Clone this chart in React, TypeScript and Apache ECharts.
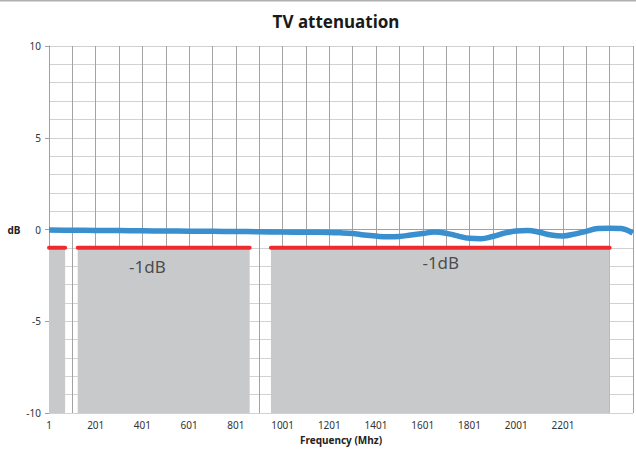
import React, { useEffect, useRef } from "react";
import * as echarts from "echarts";

const freq = [1, 100, 200, 300, 400, 500, 600, 700, 800, 900, 1000, 1100, 1200, 1250, 1300, 1350, 1400, 1450, 1500, 1550, 1600, 1650, 1700, 1750, 1800, 1850, 1900, 1950, 2000, 2050, 2100, 2150, 2200, 2250, 2300, 2350, 2400, 2450, 2500];
const attenuation = [-0.03, -0.04, -0.05, -0.06, -0.07, -0.08, -0.09, -0.1, -0.11, -0.12, -0.14, -0.15, -0.16, -0.18, -0.22, -0.3, -0.36, -0.4, -0.38, -0.3, -0.22, -0.14, -0.2, -0.35, -0.48, -0.5, -0.38, -0.2, -0.08, -0.05, -0.15, -0.3, -0.35, -0.25, -0.1, 0.05, 0.07, 0.05, -0.2];

const bandStart = [1, 124, 951];
const bandEnd = [70, 860, 2401];
const limitLevel = -1;
const floorLevel = -10;

const noteX = [422, 1678];
const noteY = [-2.0, -1.8];
const noteText = ["-1dB", "-1dB"];

const FONT = "'Noto Sans', sans-serif";

export default function App() {
  const ref = useRef<HTMLDivElement>(null);
  useEffect(() => {
    if (!ref.current) return;
    const chart = echarts.init(ref.current, null, { renderer: "svg" });

    const redData: any[] = [];
    bandStart.forEach((s, i) => {
      if (i > 0) redData.push([(bandEnd[i - 1] + s) / 2, "-"]);
      redData.push([s, limitLevel]);
      redData.push([bandEnd[i], limitLevel]);
    });

    chart.setOption({
      animation: false,
      backgroundColor: "#ffffff",
      title: {
        text: "TV attenuation",
        left: 331,
        top: 8,
        textAlign: "center",
        textStyle: { fontFamily: FONT, fontSize: 17, fontWeight: "bold", color: "#1a1a1a" },
      },
      graphic: [
        { type: "line", shape: { x1: 0, y1: 0.5, x2: 636, y2: 0.5 }, style: { stroke: "#b0b0b0", lineWidth: 2 } },
      ],
      grid: { left: 49, top: 46, width: 587.5, height: 367 },
      xAxis: {
        type: "value",
        min: 1,
        max: 2501,
        interval: 100,
        name: "Frequency (Mhz)",
        nameLocation: "middle",
        nameGap: 20,
        nameTextStyle: { fontFamily: FONT, fontSize: 10, fontWeight: "bold", color: "#222" },
        axisLine: { show: true, lineStyle: { color: "#a0a0a0", width: 1 } },
        axisTick: { show: true, length: 4, lineStyle: { color: "#a0a0a0" } },
        axisLabel: {
          fontFamily: FONT,
          fontSize: 10,
          color: "#333",
          margin: 7,
          formatter: (v: number) => ((v - 1) % 200 === 0 && v <= 2201 ? String(v) : ""),
        },
        splitLine: { show: true, lineStyle: { color: "#a3a3a3", width: 1 } },
      },
      yAxis: {
        type: "value",
        min: -10,
        max: 10,
        interval: 5,
        name: "dB",
        nameLocation: "middle",
        nameRotate: 0,
        nameGap: 27,
        nameTextStyle: { fontFamily: FONT, fontSize: 10, fontWeight: "bold", color: "#222" },
        axisLine: { show: true, lineStyle: { color: "#a0a0a0", width: 1 } },
        axisTick: { show: true, length: 4, lineStyle: { color: "#a0a0a0" } },
        axisLabel: { fontFamily: FONT, fontSize: 10, color: "#333", margin: 8 },
        splitLine: { show: true, lineStyle: { color: "#d2d2d2", width: 1 } },
        minorTick: { show: false, splitNumber: 5 },
        minorSplitLine: { show: true, lineStyle: { color: "#d2d2d2", width: 1 } },
      },
      series: [
        {
          type: "line",
          name: "limit",
          data: redData,
          symbol: "none",
          connectNulls: false,
          lineStyle: { color: "#ee2a2e", width: 4, cap: "round" },
          z: 3,
          markArea: {
            silent: true,
            itemStyle: { color: "#c8c9cb", opacity: 1 },
            data: bandStart.map((s, i) => [
              { coord: [s, limitLevel] },
              { coord: [bandEnd[i], floorLevel] },
            ]),
          },
        },
        {
          type: "scatter",
          name: "notes",
          data: noteX.map((x, i) => [x, noteY[i]]),
          symbolSize: 0,
          z: 4,
          label: {
            show: true,
            position: "inside",
            formatter: (p: any) => noteText[p.dataIndex],
            fontFamily: FONT,
            fontSize: 17,
            color: "#2a2a2a",
          },
        },
        {
          type: "line",
          name: "attenuation",
          data: freq.map((f, i) => [f, attenuation[i]]),
          symbol: "none",
          smooth: 0.4,
          lineStyle: { color: "#3a8fcf", width: 5.5 },
          z: 5,
        },
      ],
    });
    return () => chart.dispose();
  }, []);
  return <div ref={ref} style={{ position: "absolute", left: 0, top: 0, width: 636, height: 450 }} />;
}
